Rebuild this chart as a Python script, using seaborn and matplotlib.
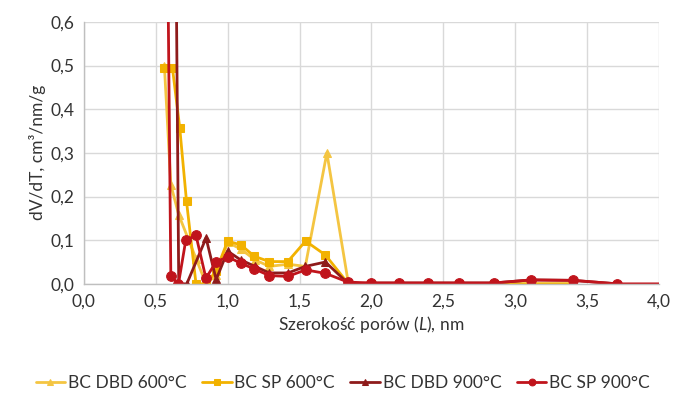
import matplotlib
matplotlib.use('Agg')
import matplotlib.pyplot as plt
import seaborn as sns

# pore width (nm) and dV/dT values
dbd600_x = [0.56, 0.605, 0.66, 0.78, 0.85, 0.92, 1.0, 1.09, 1.19, 1.29, 1.42, 1.54, 1.69, 1.84, 2.0, 2.19, 2.39, 2.61, 2.85, 3.11, 3.40]
dbd600_y = [0.50, 0.227, 0.158, 0.058, 0.0, 0.02, 0.095, 0.08, 0.055, 0.04, 0.045, 0.04, 0.30, 0.0, 0.0, 0.0, 0.0, 0.0, 0.0, 0.0, 0.0]

sp600_x = [0.558, 0.616, 0.667, 0.714, 0.78, 0.85, 0.92, 1.0, 1.093, 1.186, 1.29, 1.418, 1.542, 1.68, 1.84, 2.0, 2.19, 2.39, 2.61, 2.85, 3.11, 3.40]
sp600_y = [0.495, 0.495, 0.357, 0.189, 0.0, 0.0, 0.03, 0.098, 0.089, 0.063, 0.051, 0.051, 0.098, 0.066, 0.0, 0.0, 0.0, 0.0, 0.0, 0.0, 0.0, 0.0]

dbd900_x = [0.63, 0.66, 0.716, 0.85, 0.92, 1.0, 1.09, 1.19, 1.29, 1.42, 1.54, 1.68, 1.84, 2.0, 2.19, 2.39, 2.61, 2.85, 3.11, 3.40, 3.71]
dbd900_y = [1.2, 0.0, 0.0, 0.105, 0.01, 0.075, 0.055, 0.04, 0.025, 0.025, 0.04, 0.05, 0.0, 0.002, 0.002, 0.002, 0.002, 0.002, 0.009, 0.008, 0.0]

sp900_x = [0.57, 0.605, 0.658, 0.709, 0.78, 0.849, 0.919, 1.0, 1.093, 1.186, 1.29, 1.418, 1.542, 1.68, 1.837, 2.0, 2.19, 2.39, 2.61, 2.85, 3.11, 3.40, 3.71, 4.05]
sp900_y = [1.2, 0.017, 0.0, 0.10, 0.111, 0.013, 0.05, 0.062, 0.047, 0.034, 0.019, 0.017, 0.032, 0.024, 0.004, 0.002, 0.002, 0.002, 0.002, 0.002, 0.009, 0.008, 0.0, 0.0]

x_ticks = [0.0, 0.5, 1.0, 1.5, 2.0, 2.5, 3.0, 3.5, 4.0]
y_ticks = [0.0, 0.1, 0.2, 0.3, 0.4, 0.5, 0.6]

series = [
    ('BC DBD 600°C', dbd600_x, dbd600_y, '#F4C542', '^', 6),
    ('BC SP 600°C', sp600_x, sp600_y, '#F2B200', 's', 6),
    ('BC DBD 900°C', dbd900_x, dbd900_y, '#8E1B1B', '^', 6),
    ('BC SP 900°C', sp900_x, sp900_y, '#C0141C', 'o', 7),
]

sns.set_theme(style='white')
plt.rcParams['font.family'] = ['Lato', 'DejaVu Sans']
plt.rcParams['mathtext.fontset'] = 'custom'
plt.rcParams['mathtext.rm'] = 'Lato'
plt.rcParams['mathtext.it'] = 'Lato:italic'

fig, ax = plt.subplots(figsize=(6.76, 3.97), dpi=100)
fig.subplots_adjust(left=0.124, right=0.975, top=0.945, bottom=0.285)

for name, xs, ys, col, mk, ms in series:
    sns.lineplot(x=xs, y=ys, sort=False, ax=ax, color=col, marker=mk, markersize=ms,
                 markeredgecolor=col, linewidth=2.0, label=name, estimator=None)

ax.set_xlim(0, 4.0)
ax.set_ylim(0, 0.6)
ax.set_xticks(x_ticks)
ax.set_yticks(y_ticks)
ax.set_xticklabels([f'{t:.1f}'.replace('.', ',') for t in x_ticks], fontsize=12.5, color='#333333')
ax.set_yticklabels([f'{t:.1f}'.replace('.', ',') for t in y_ticks], fontsize=12.5, color='#333333')
ax.tick_params(length=0, pad=7)
ax.grid(True, color='#D9D9D9', linewidth=1)
for s in ['top', 'right']:
    ax.spines[s].set_visible(False)
for s in ['left', 'bottom']:
    ax.spines[s].set_color('#BFBFBF')
    ax.spines[s].set_linewidth(1)

ax.set_xlabel('Szerokość porów ($\\mathit{L}$), nm', fontsize=12.5, color='#333333', labelpad=3)
ax.set_ylabel('dV/dT, cm³/nm/g', fontsize=12.5, color='#333333', labelpad=3)

ax.legend(loc='upper center', bbox_to_anchor=(0.45, -0.29), ncol=4, frameon=False,
          fontsize=12.5, handlelength=1.7, handletextpad=0.15, columnspacing=0.9,
          labelcolor='#333333', markerscale=0.7)

fig.savefig('out.png', dpi=100, facecolor='white')
